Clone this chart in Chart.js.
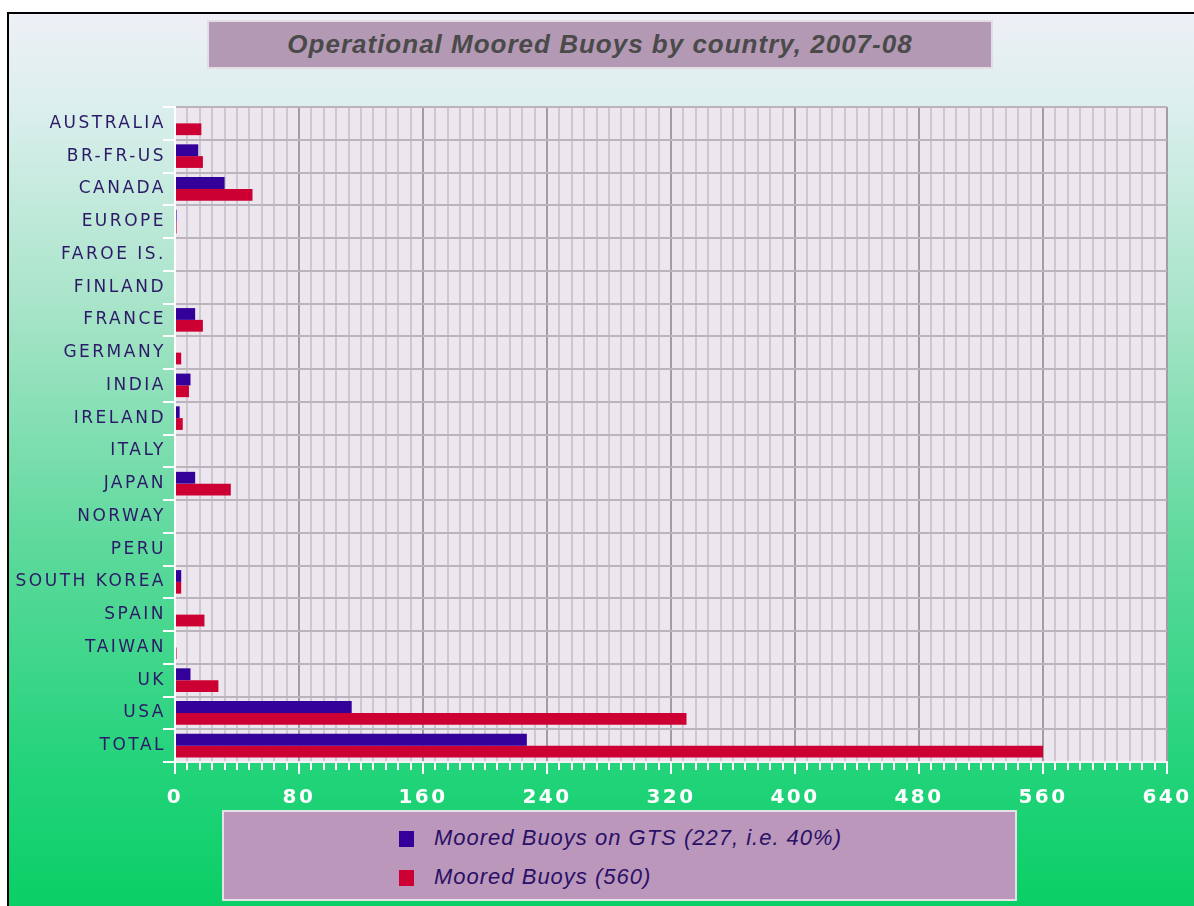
<!DOCTYPE html>
<html>
<head>
<meta charset="utf-8">
<script src="https://cdn.jsdelivr.net/npm/chart.js@4.4.1/dist/chart.umd.min.js"></script>
<style>
    html, body { margin: 0; padding: 0; background: #fff; }
    #wrap { position: relative; width: 1194px; height: 906px; overflow: hidden; }
    #chart { position: absolute; left: 0; top: 0; }
    .titleBox {
        position: absolute; left: 207px; top: 20px; width: 786px; height: 49px;
        box-sizing: border-box; background: #b399b3; border: 2px solid #e3dde6;
        font: italic bold 26px "Liberation Sans", Arial, sans-serif; color: #4a4a4a;
        letter-spacing: 1px; text-align: center; line-height: 45px;
    }
    .legendBox {
        position: absolute; left: 222px; top: 810px; width: 795px; height: 91px;
        box-sizing: border-box; background: #bb97bb; border: 2px solid #e6e1e8;
    }
    .legendItem {
        position: absolute; left: 175px; height: 24px;
        font: italic 22px "Liberation Sans", Arial, sans-serif; color: #2a1066;
        letter-spacing: 1px; line-height: 24px; white-space: nowrap;
    }
    .legendItem span.sw {
        display: inline-block; width: 15px; height: 16px; margin-right: 20px; vertical-align: -2px;
    }
</style>
</head>
<body>
<div id="wrap">
    <canvas id="chart" width="1194" height="906"></canvas>
    <div class="titleBox">Operational Moored Buoys by country, 2007-08</div>
    <div class="legendBox" id="legend"></div>
</div>
<script>
// --- Data ---
const countries = ['AUSTRALIA', 'BR-FR-US', 'CANADA', 'EUROPE', 'FAROE IS.', 'FINLAND', 'FRANCE', 'GERMANY',
    'INDIA', 'IRELAND', 'ITALY', 'JAPAN', 'NORWAY', 'PERU', 'SOUTH KOREA', 'SPAIN', 'TAIWAN', 'UK', 'USA', 'TOTAL'];
const onGts = [0, 15, 32, 1, 0, 0, 13, 0, 10, 3, 0, 13, 0, 0, 4, 0, 0, 10, 114, 227];
const moored = [17, 18, 50, 1, 0, 0, 18, 4, 9, 5, 0, 36, 0, 0, 4, 19, 1, 28, 330, 560];
const seriesLabels = ['Moored Buoys on GTS (227, i.e. 40%)', 'Moored Buoys (560)'];
const seriesColors = ['#330099', '#cc0033'];
const X_MAX = 640;
const X_STEP = 8;
const X_LABEL_STEP = 80;

// background: white margin, black frame line, green gradient, plot fill
const backdrop = {
    id: 'backdrop',
    beforeDraw(chart) {
        const { ctx, width, height, chartArea: a } = chart;
        ctx.save();
        ctx.fillStyle = '#fff';
        ctx.fillRect(0, 0, width, height);
        ctx.fillStyle = '#000';
        ctx.fillRect(7, 12, width - 7, 2);
        ctx.fillRect(7, 12, 2, height - 12);
        const g = ctx.createLinearGradient(0, 14, 0, height);
        g.addColorStop(0, '#eef0f6');
        g.addColorStop(0.1, '#dcefee');
        g.addColorStop(0.35, '#a2e3c5');
        g.addColorStop(0.6, '#5cd99b');
        g.addColorStop(0.85, '#22d37a');
        g.addColorStop(1, '#0bcf66');
        ctx.fillStyle = g;
        ctx.fillRect(9, 14, width - 9, height - 14);
        ctx.fillStyle = '#ece6ef';
        ctx.fillRect(a.left, a.top, a.right - a.left, a.bottom - a.top);
        ctx.restore();
        // the axis labels in the original are widely spaced
        ctx.letterSpacing = '2.5px';
    },
    afterDraw(chart) {
        chart.ctx.letterSpacing = '0px';
    },
};

// white tick marks under the value axis, longer on the labelled ones
const valueTicks = {
    id: 'valueTicks',
    afterDraw(chart) {
        const { ctx, chartArea: a } = chart;
        const x = chart.scales.x;
        ctx.save();
        ctx.strokeStyle = '#fff';
        ctx.lineWidth = 2;
        for (let v = 0; v <= X_MAX; v += X_STEP) {
            const px = Math.round(x.getPixelForValue(v));
            const len = v % X_LABEL_STEP === 0 ? 12 : 8;
            ctx.beginPath();
            ctx.moveTo(px, a.bottom);
            ctx.lineTo(px, a.bottom + len);
            ctx.stroke();
        }
        ctx.restore();
    },
};

new Chart(document.getElementById('chart'), {
    type: 'bar',
    data: {
        labels: countries,
        datasets: [
            { label: seriesLabels[0], data: onGts, backgroundColor: seriesColors[0] },
            { label: seriesLabels[1], data: moored, backgroundColor: seriesColors[1] },
        ],
    },
    options: {
        indexAxis: 'y',
        responsive: false,
        animation: false,
        devicePixelRatio: 1,
        categoryPercentage: 0.72,
        barPercentage: 1,
        layout: { padding: { left: 0, top: 107, right: 27, bottom: 94 } },
        plugins: { legend: { display: false }, title: { display: false }, tooltip: { enabled: false } },
        scales: {
            x: {
                min: 0,
                max: X_MAX,
                afterFit: s => { s.height = 50; s.paddingLeft = 0; s.paddingRight = 0; },
                afterBuildTicks: s => {
                    s.ticks = [];
                    for (let v = 0; v <= X_MAX; v += X_STEP) s.ticks.push({ value: v });
                },
                ticks: {
                    autoSkip: false,
                    maxRotation: 0,
                    padding: 24,
                    color: '#fff',
                    font: { family: 'DejaVu Sans', size: 20, weight: 'bold' },
                    callback: v => (v % X_LABEL_STEP === 0 ? v : ''),
                },
                grid: {
                    drawTicks: false,
                    color: c => (c.tick && c.tick.value % X_LABEL_STEP === 0 ? '#a39ca3' : '#cfc7d0'),
                    lineWidth: 2,
                },
                border: { color: '#f4f0f5', width: 2 },
            },
            y: {
                afterFit: s => { s.width = 175; },
                ticks: {
                    padding: -3,
                    color: '#2c1a68',
                    font: { family: 'DejaVu Sans', size: 17 },
                },
                grid: {
                    color: '#bcb4bd',
                    lineWidth: 2,
                    tickColor: '#fff',
                    tickLength: 12,
                    tickWidth: 2,
                },
                border: { color: '#fff', width: 2 },
            },
        },
    },
    plugins: [backdrop, valueTicks],
});

// --- Legend box ---
const legend = document.getElementById('legend');
legend.innerHTML = seriesLabels.map((t, i) => `
    <div class="legendItem" style="top:${14 + i * 39}px">
        <span class="sw" style="background:${seriesColors[i]}"></span>${t}
    </div>`).join('');
</script>
</body>
</html>
